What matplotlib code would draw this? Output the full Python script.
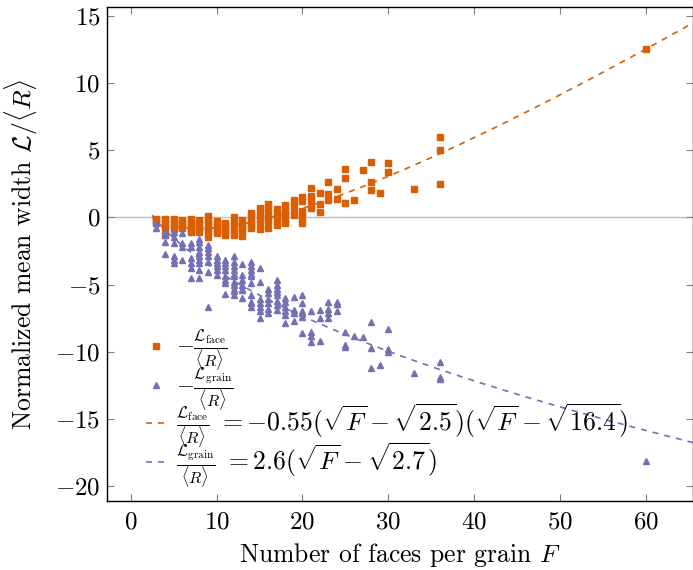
import numpy as np
import matplotlib
matplotlib.use("Agg")
import matplotlib.pyplot as plt

plt.rcParams["font.family"] = "serif"
plt.rcParams["font.serif"] = ["cmr10"]
plt.rcParams["mathtext.fontset"] = "cm"
plt.rcParams["axes.formatter.use_mathtext"] = True
plt.rcParams["axes.unicode_minus"] = True

ORANGE = "#D95F02"
PURPLE = "#7570B3"

# Normalized face mean width, grouped by number of faces F
face_F = [3, 4, 5, 6, 7, 8, 9, 10, 11, 12, 13, 14, 15, 16, 17, 18, 19, 20,
          21, 22, 23, 24, 25, 26, 27, 28, 29, 30, 33, 36, 60]
face_vals = [
    [-0.1, -0.25, -0.4],
    [-0.1, -0.3, -0.5, -0.8, -1.3],
    [-0.1, -0.3, -0.5, -0.7, -0.9],
    [-0.2, -0.4, -0.6, -0.8],
    [-0.1, -0.3, -0.5, -0.7, -0.9, -1.1],
    [-0.2, -0.4, -0.6, -0.9, -1.1],
    [0.1, -0.2, -0.5, -0.8, -1.0, -1.5],
    [-0.3, -0.5, -0.7, -0.9, -1.2],
    [-0.4, -0.6, -0.8, -1.0, -1.3],
    [0.0, -0.3, -0.6, -0.9, -1.1, -1.3],
    [-0.2, -0.5, -0.8, -1.1, -1.4],
    [0.3, 0.0, -0.3, -0.6, -0.8],
    [0.7, 0.4, 0.1, -0.2, -0.5, -0.9],
    [1.0, 0.6, 0.3, 0.0, -0.3, -0.8],
    [0.6, 0.3, 0.0, -0.3, -0.6],
    [0.9, 0.5, 0.2, -0.1, -0.4],
    [1.3, 0.9, 0.5, 0.2],
    [1.5, 1.2, 0.5, 0.2, -0.1, -0.4],
    [2.2, 1.6, 1.2, 0.7],
    [1.8, 1.0, 0.4],
    [2.6, 1.7, 1.3],
    [2.1, 1.4],
    [3.6, 2.9, 1.1],
    [1.3],
    [3.5],
    [4.1, 2.6, 2.0],
    [1.8],
    [4.05, 3.35],
    [2.1],
    [5.95, 5.0, 2.45],
    [12.5],
]

# Normalized grain mean width, grouped by number of faces F
grain_F = [3, 4, 5, 6, 7, 8, 9, 10, 11, 12, 13, 14, 15, 16, 17, 18, 19, 20,
           21, 22, 23, 24, 25, 26, 27, 28, 29, 30, 33, 36, 60]
grain_vals = [
    [-0.45, -0.8],
    [-1.07, -1.3, -1.8, -2.7],
    [-1.1, -1.45, -1.9, -2.9, -3.2, -3.4],
    [-1.2, -1.9, -2.2, -3.2],
    [-1.9, -2.2, -3.05, -3.4, -3.8, -4.5],
    [-1.6, -1.8, -2.2, -2.55, -2.9, -3.2, -3.4, -3.9, -4.5],
    [-2.05, -2.3, -2.55, -2.9, -3.3, -4.1, -6.65],
    [-2.9, -3.2, -3.4, -3.65, -3.9, -4.3],
    [-3.2, -3.4, -3.65, -3.9, -4.4, -4.7, -4.9, -5.7],
    [-2.9, -3.3, -3.65, -3.9, -4.2, -4.4, -4.8, -5.0, -5.3, -5.5, -5.8],
    [-3.5, -4.3, -4.7, -5.0, -5.3, -5.4, -6.0],
    [-3.3, -3.65, -3.9, -4.2, -4.4, -4.9, -5.8, -6.3, -6.4, -6.65],
    [-3.8, -4.8, -6.1, -6.4, -6.65, -7.0, -7.5],
    [-5.3, -5.65, -6.05, -6.4, -6.8, -7.1],
    [-4.7, -5.05, -5.3, -5.55, -5.8, -6.2, -6.55, -6.9],
    [-6.0, -6.3, -6.65, -7.0, -7.3, -7.9],
    [-5.9, -6.9, -7.1, -7.7],
    [-5.8, -6.4, -7.0, -7.15, -7.4, -8.6],
    [-7.0, -8.5, -8.8, -9.3],
    [-6.9, -7.5, -9.2],
    [-6.3, -6.8, -7.1, -7.5],
    [-6.3, -6.45, -7.0],
    [-8.5, -9.5, -9.65],
    [-8.8],
    [-8.9],
    [-7.8, -9.7, -11.2],
    [-11.0],
    [-8.3, -9.8, -10.0],
    [-11.6],
    [-10.8, -11.9, -12.05],
    [-18.1],
]

# Fit parameters
face_a, face_b, face_c = -0.55, 2.5, 16.4
grain_a, grain_b = 2.6, 2.7

fx = np.concatenate([[f] * len(v) for f, v in zip(face_F, face_vals)])
fy = np.concatenate(face_vals)
gx = np.concatenate([[f] * len(v) for f, v in zip(grain_F, grain_vals)])
gy = np.concatenate(grain_vals)

F = np.linspace(2.5, 66, 400)
face_fit = -face_a * (np.sqrt(F) - np.sqrt(face_b)) * (np.sqrt(F) - np.sqrt(face_c))
grain_fit = -grain_a * (np.sqrt(F) - np.sqrt(grain_b))

fig = plt.figure(figsize=(6.93, 5.70), dpi=100)
ax = fig.add_axes([107.3 / 693, 1 - 500.7 / 570, (693 - 107.3) / 693, (500.7 - 7.3) / 570])

ax.axhline(0, color="#bdbdbd", lw=1.0, zorder=1)

frac_face = r"\frac{\mathcal{L}_{\mathrm{face}}}{\langle R\rangle}"
frac_grain = r"\frac{\mathcal{L}_{\mathrm{grain}}}{\langle R\rangle}"

ax.plot(fx, fy, ls="none", marker="s", ms=4.2, color=ORANGE, mec=ORANGE, zorder=3,
        label=r"$-" + frac_face + r"$")
ax.plot(gx, gy, ls="none", marker="^", ms=4.6, color=PURPLE, mec=PURPLE, zorder=3,
        label=r"$-" + frac_grain + r"$")
ax.plot(F, face_fit, color=ORANGE, lw=1.2, dashes=(3.6, 3.6), zorder=2,
        label=r"$" + frac_face + r"$")
ax.plot(F, grain_fit, color=PURPLE, lw=1.2, dashes=(3.6, 3.6), zorder=2,
        label=r"$" + frac_grain + r"$")

ax.set_xlim(-2.72, 65.46)
ax.set_ylim(-21.09, 15.63)
ax.set_xticks(np.arange(0, 61, 10))
ax.set_yticks(np.arange(-20, 16, 5))

ax.tick_params(direction="in", length=5, width=0.8, color="#808080",
               top=True, right=True, labelsize=18)
ax.tick_params(axis="x", pad=8)
ax.tick_params(axis="y", pad=5)
for s in ax.spines.values():
    s.set_linewidth(1.0)

ax.set_xlabel(r"Number of faces per grain $F$", fontsize=18.5, labelpad=5)
ax.set_ylabel(r"Normalized mean width $\mathcal{L}/\langle R\rangle$", fontsize=18.5, labelpad=11)

leg = ax.legend(loc="lower left", bbox_to_anchor=(0.05, 0.0), frameon=False, fontsize=16.5,
                handlelength=0.87, handletextpad=0.45, labelspacing=-0.42, borderaxespad=0.0,
                markerscale=0.9)

# right-hand sides of the two fitted relations, set on the baseline of their fractions
rhs = [r"$= -0.55(\sqrt{F} - \sqrt{2.5})(\sqrt{F} - \sqrt{16.4})$",
       r"$= 2.6(\sqrt{F} - \sqrt{2.7})$"]
fig.canvas.draw()
renderer = fig.canvas.get_renderer()
to_fig = fig.transFigure.inverted()
for txt, eq in zip(leg.get_texts()[2:], rhs):
    bb = txt.get_window_extent(renderer)
    _, _, descent = txt._get_layout(renderer)
    px, py = to_fig.transform((bb.x1 + 8, bb.y0 + descent))
    fig.text(px, py, eq, ha="left", va="baseline", fontsize=18.5)

fig.savefig("out.png", dpi=100)
